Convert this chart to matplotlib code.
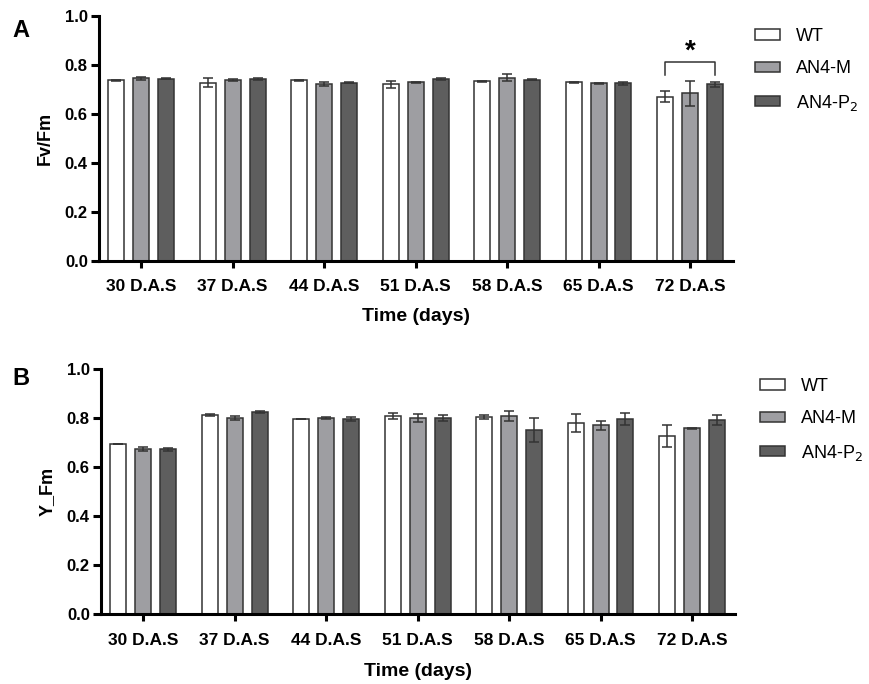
import numpy as np
import matplotlib
matplotlib.use('Agg')
import matplotlib.pyplot as plt

plt.rcParams['font.family'] = ['Liberation Sans', 'DejaVu Sans']

days = ['30 D.A.S', '37 D.A.S', '44 D.A.S', '51 D.A.S', '58 D.A.S', '65 D.A.S', '72 D.A.S']
genotypes = ['WT', 'AN4-M', 'AN4-P$_2$']

# Panel A: Fv/Fm
fvfm_wt = [0.737, 0.728, 0.737, 0.721, 0.733, 0.729, 0.671]
fvfm_m = [0.745, 0.739, 0.721, 0.729, 0.748, 0.725, 0.684]
fvfm_p2 = [0.744, 0.742, 0.727, 0.742, 0.740, 0.725, 0.721]
fvfm_wt_err = [0.003, 0.018, 0.002, 0.013, 0.003, 0.003, 0.023]
fvfm_m_err = [0.005, 0.003, 0.008, 0.002, 0.014, 0.002, 0.052]
fvfm_p2_err = [0.003, 0.003, 0.002, 0.003, 0.002, 0.007, 0.011]

# Panel B: Y_Fm
yfm_wt = [0.694, 0.813, 0.796, 0.807, 0.803, 0.780, 0.725]
yfm_m = [0.673, 0.800, 0.800, 0.800, 0.808, 0.771, 0.758]
yfm_p2 = [0.673, 0.824, 0.796, 0.800, 0.750, 0.796, 0.792]
yfm_wt_err = [0.002, 0.004, 0.002, 0.012, 0.008, 0.038, 0.045]
yfm_m_err = [0.008, 0.009, 0.003, 0.016, 0.020, 0.018, 0.003]
yfm_p2_err = [0.006, 0.005, 0.008, 0.014, 0.049, 0.023, 0.021]

colors = ['white', '#9e9ea2', '#5e5e5e']


def draw_panel(ax, series, errors, ylabel, legend_anchor, tick_pad, xlabel_pad):
    x = np.arange(len(days))
    offsets = [-0.273, 0.0, 0.273]
    handles = []
    for vals, errs, off, col, name in zip(series, errors, offsets, colors, genotypes):
        b = ax.bar(x + off, vals, width=0.175, color=col, edgecolor='#333333',
                   linewidth=1.1, label=name, zorder=2)
        ax.errorbar(x + off, vals, yerr=errs, fmt='none', ecolor='#333333',
                    elinewidth=1.1, capsize=3.5, capthick=1.1, zorder=3)
        handles.append(b)
    ax.set_xlim(-0.46, 6.47)
    ax.set_ylim(0, 1.0)
    ax.set_yticks(np.arange(0, 1.01, 0.2))
    ax.set_yticklabels(['%.1f' % v for v in np.arange(0, 1.01, 0.2)])
    ax.set_xticks(x)
    ax.set_xticklabels(days)
    for lab in ax.get_xticklabels():
        lab.set_fontweight('bold')
        lab.set_fontsize(12.5)
    for lab in ax.get_yticklabels():
        lab.set_fontweight('bold')
        lab.set_fontsize(12)
    ax.spines['top'].set_visible(False)
    ax.spines['right'].set_visible(False)
    ax.spines['left'].set_linewidth(2.2)
    ax.spines['bottom'].set_linewidth(2.2)
    ax.tick_params(axis='y', length=6, width=2.2, pad=2)
    ax.tick_params(axis='x', length=5, width=2.2, pad=tick_pad)
    ax.set_ylabel(ylabel, fontsize=13, fontweight='bold', labelpad=8)
    ax.set_xlabel('Time (days)', fontsize=14, fontweight='bold', labelpad=xlabel_pad)
    fig.legend(handles=handles, loc='upper left', bbox_to_anchor=legend_anchor,
               frameon=False, fontsize=13, handlelength=1.4, handleheight=0.5,
               labelspacing=0.85, handletextpad=0.85, borderpad=0, borderaxespad=0)


fig = plt.figure(figsize=(8.69, 6.84), dpi=100)
ax_a = fig.add_axes([0.1139, 0.6184, 0.7296, 0.3582])
ax_b = fig.add_axes([0.1162, 0.1023, 0.7296, 0.3582])

draw_panel(ax_a, [fvfm_wt, fvfm_m, fvfm_p2], [fvfm_wt_err, fvfm_m_err, fvfm_p2_err], 'Fv/Fm',
           (755 / 869, 1 - 28 / 684), 8, 10)
draw_panel(ax_b, [yfm_wt, yfm_m, yfm_p2], [yfm_wt_err, yfm_m_err, yfm_p2_err], 'Y_Fm',
           (760 / 869, 1 - 378 / 684), 9, 10.5)

# significance bracket on 72 D.A.S
x0, x1 = 6 - 0.273, 6 + 0.273
ax_a.plot([x0, x0, x1, x1], [0.759, 0.811, 0.811, 0.759], color='#333333', lw=1.1)
ax_a.text(6, 0.855, '*', ha='center', va='center', fontsize=20, fontweight='bold')

fig.text(0.014, 0.955, 'A', fontsize=17, fontweight='bold', va='center')
fig.text(0.014, 0.446, 'B', fontsize=17, fontweight='bold', va='center')

fig.savefig('out.png', dpi=100)
